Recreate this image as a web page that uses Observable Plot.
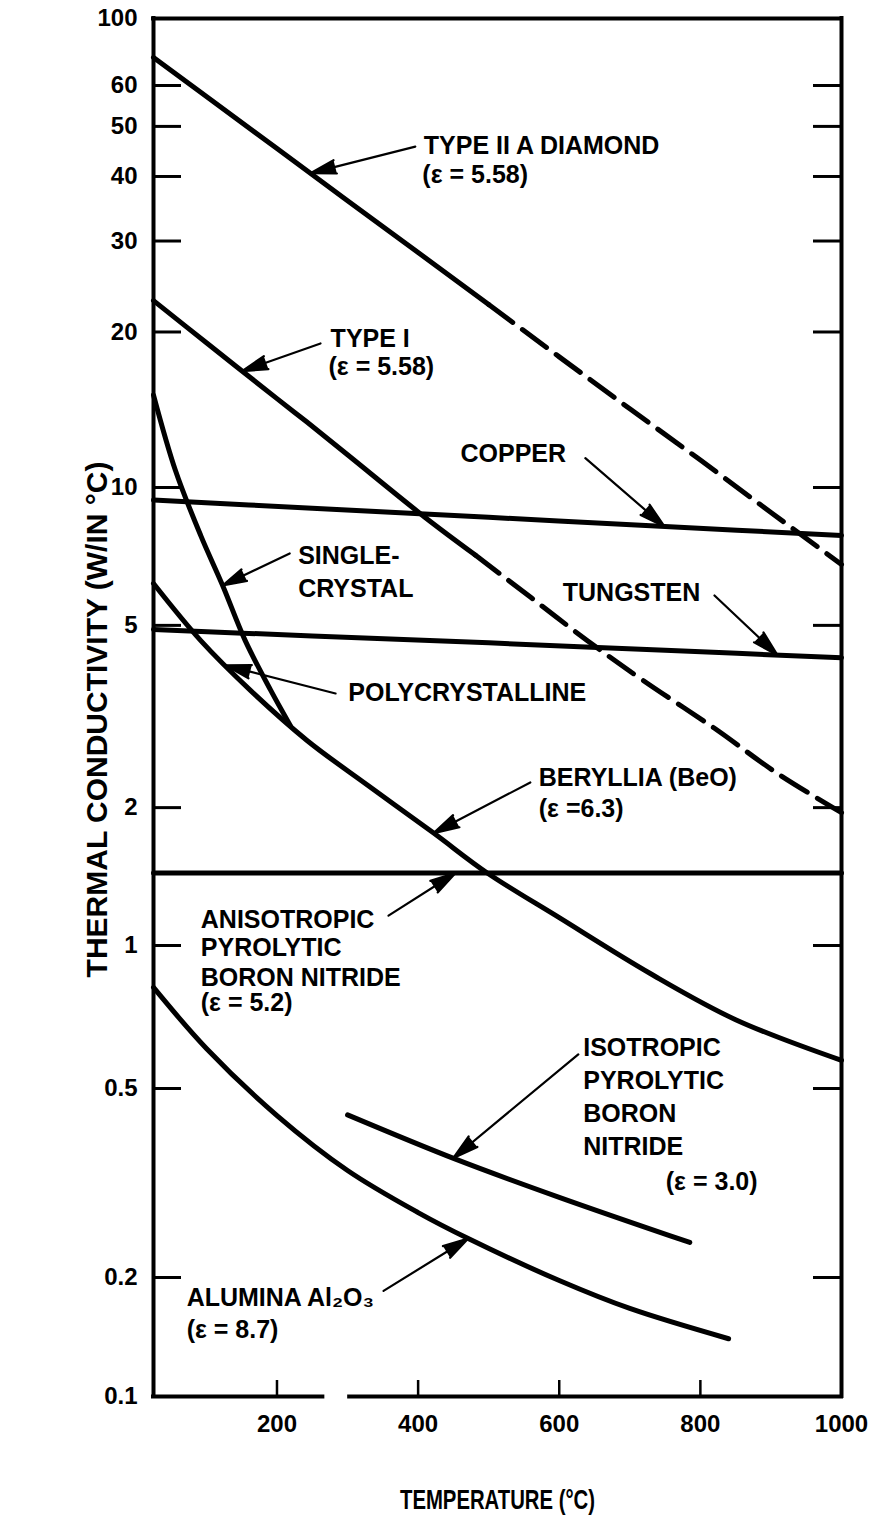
<!DOCTYPE html>
<html><head><meta charset="utf-8">
<script src="https://cdn.jsdelivr.net/npm/d3@7"></script>
<script src="https://cdn.jsdelivr.net/npm/@observablehq/plot@0.6"></script>
<style>body{margin:0;background:#fff;}</style>
</head><body><div id="chart"></div>
<script>
// ---- tick values ----
const xTicks = [200, 400, 600, 800, 1000];
const yTicks = [0.1, 0.2, 0.5, 1, 2, 5, 10, 20, 30, 40, 50, 60, 100];
const yInnerTicks = [0.2, 0.5, 1, 2, 5, 10, 20, 30, 40, 50, 60];
const xInnerTicks = [200, 400, 600, 800];

// ---- series (temperature °C, conductivity W/in °C) ----
const diamondSolidT = [25, 100, 200, 300, 400, 500];
const diamondSolidK = [74.3, 57.1, 45.3, 35.9, 28.5, 22.6];
const diamondDashT = [500, 600, 700, 800, 900, 1000];
const diamondDashK = [22.6, 17.9, 14.2, 11.3, 8.82, 6.79];

const type1SolidT = [25, 100, 200, 242, 300, 410, 481];
const type1SolidK = [23.0, 19.06, 14.86, 13.4, 11.57, 8.60, 7.12];
const type1DashT = [481, 560, 640, 720, 820, 910, 1000];
const type1DashK = [7.12, 5.75, 4.63, 3.78, 2.98, 2.37, 1.95];

const copperT = [25, 250, 500, 750, 1000];
const copperK = [9.39, 9.01, 8.61, 8.22, 7.86];

const tungstenT = [25, 250, 500, 750, 1000];
const tungstenK = [4.90, 4.74, 4.58, 4.41, 4.25];

const singleT = [25, 56, 92, 123, 155, 191, 219];
const singleK = [15.1, 10.8, 7.85, 6.11, 4.63, 3.61, 3.02];

const polyT = [25, 92, 162, 243, 330, 422, 498, 600, 729, 850, 1000];
const polyK = [6.17, 4.63, 3.61, 2.80, 2.23, 1.76, 1.44, 1.15, 0.873, 0.698, 0.573];

const anisoT = [25, 1000];
const anisoK = [1.44, 1.44];

const isoT = [300, 453, 600, 785];
const isoK = [0.44, 0.355, 0.295, 0.237];

const aluminaT = [25, 100, 200, 300, 400, 471, 600, 700, 840];
const aluminaK = [0.816, 0.607, 0.4385, 0.336, 0.274, 0.2416, 0.1965, 0.167, 0.140];

// ---- annotation labels ----
const labelText = ["TYPE II A DIAMOND", "(ε = 5.58)", "TYPE I", "(ε = 5.58)", "COPPER",
  "SINGLE-", "CRYSTAL", "TUNGSTEN", "POLYCRYSTALLINE", "BERYLLIA (BeO)", "(ε =6.3)",
  "ANISOTROPIC", "PYROLYTIC", "BORON NITRIDE", "(ε = 5.2)",
  "ISOTROPIC", "PYROLYTIC", "BORON", "NITRIDE", "(ε = 3.0)",
  "ALUMINA Al₂O₃", "(ε = 8.7)"];
const labelT = [408, 406, 276, 273, 460, 230, 230, 605, 301, 571, 571,
  92, 92, 92, 92, 634, 634, 634, 634, 751, 72, 72];
const labelK = [45.9, 40.2, 19.4, 17.1, 11.6, 7.1, 5.99, 5.87, 3.55, 2.32, 1.99,
  1.134, 0.986, 0.856, 0.755, 0.608, 0.518, 0.442, 0.377, 0.317, 0.178, 0.147];

// ---- arrows (from label to curve) ----
const arrowT1 = [396, 261.7, 637, 218, 820, 283, 559, 358, 627, 351];
const arrowK1 = [45.7, 19.0, 11.4, 7.18, 5.81, 3.55, 2.27, 1.162, 0.59, 0.185];
const arrowT2 = [247.5, 150.5, 749, 123, 909, 127, 422, 453, 450, 471];
const arrowK2 = [40.6, 16.8, 8.22, 6.11, 4.31, 4.09, 1.76, 1.44, 0.357, 0.2416];

// ---- frame pieces ----
const bottomFrameA = [25, 303];
const bottomFrameB = [265, 1000];

// y scale anchors (value -> vertical position of the printed grid)
const yAnchorValues = [0.1, 0.2, 1, 10, 60, 100];
const yAnchorRange = [1396, 1277, 945, 487, 85, 18];

const pts = (T, K) => T.map((t, i) => ({T: t, k: K[i]}));
const labels = labelText.map((t, i) => ({t, T: labelT[i], k: labelK[i]}));
const arrows = arrowT1.map((t, i) => ({x1: t, y1: arrowK1[i], x2: arrowT2[i], y2: arrowK2[i]}));
const bottomSegs = bottomFrameA.map((a, i) => ({a, b: bottomFrameB[i]}));

const font = "'Liberation Sans', Arial, Helvetica, sans-serif";
const curveW = 5;
const xTitle = "TEMPERATURE (°C)";
const yTitle = "THERMAL CONDUCTIVITY (W/IN °C)";

const chart = Plot.plot({
  width: 869,
  height: 1520,
  marginLeft: 153,
  marginRight: 28,
  marginTop: 18,
  marginBottom: 124,
  style: {fontFamily: font, fontWeight: "bold", color: "black", background: "white", overflow: "visible"},
  x: {domain: [25, 1000], axis: null},
  y: {type: "log", domain: yAnchorValues, range: yAnchorRange, axis: null},
  marks: [
    // frame
    Plot.ruleX([25, 1000], {x: d => d, strokeWidth: 4, strokeLinecap: "square"}),
    Plot.ruleY([100], {y: d => d, strokeWidth: 4, strokeLinecap: "square"}),
    Plot.ruleY(bottomSegs, {y: 0.1, x1: "a", x2: "b", strokeWidth: 4, strokeLinecap: "square"}),
    // inner ticks
    Plot.tickY(yInnerTicks, {y: d => d, insetRight: 660, strokeWidth: 3}),
    Plot.tickY(yInnerTicks, {y: d => d, insetLeft: 660, strokeWidth: 3}),
    Plot.tickX(xInnerTicks, {x: d => d, insetTop: 1362, strokeWidth: 2.5}),
    // tick labels
    Plot.text(yTicks, {y: d => d, text: d => String(d), frameAnchor: "left", textAnchor: "end", dx: -16, fontSize: 24, fontWeight: "bold"}),
    Plot.axisX({ticks: xTicks, tickSize: 0, tickPadding: 18, tickFormat: d => String(d), fontSize: 24, fontWeight: "bold", label: null}),
    // axis titles
    Plot.text([xTitle], {text: d => d, frameAnchor: "bottom", textAnchor: "middle", dy: 112, fontSize: 28, fontWeight: "bold"}),
    Plot.text([yTitle], {text: d => d, frameAnchor: "left", textAnchor: "middle", dx: -56, dy: 12, rotate: -90, fontSize: 30, fontWeight: "bold"}),
    // curves
    Plot.line(pts(diamondSolidT, diamondSolidK), {x: "T", y: "k", strokeWidth: curveW}),
    Plot.line(pts(diamondDashT, diamondDashK), {x: "T", y: "k", strokeWidth: curveW, strokeDasharray: "30,12"}),
    Plot.line(pts(type1SolidT, type1SolidK), {x: "T", y: "k", strokeWidth: curveW, curve: "catmull-rom"}),
    Plot.line(pts(type1DashT, type1DashK), {x: "T", y: "k", strokeWidth: curveW, strokeDasharray: "30,12", curve: "catmull-rom"}),
    Plot.line(pts(copperT, copperK), {x: "T", y: "k", strokeWidth: curveW, curve: "catmull-rom"}),
    Plot.line(pts(tungstenT, tungstenK), {x: "T", y: "k", strokeWidth: curveW, curve: "catmull-rom"}),
    Plot.line(pts(singleT, singleK), {x: "T", y: "k", strokeWidth: curveW, curve: "catmull-rom"}),
    Plot.line(pts(polyT, polyK), {x: "T", y: "k", strokeWidth: curveW, curve: "catmull-rom"}),
    Plot.line(pts(anisoT, anisoK), {x: "T", y: "k", strokeWidth: curveW}),
    Plot.line(pts(isoT, isoK), {x: "T", y: "k", strokeWidth: curveW, curve: "catmull-rom"}),
    Plot.line(pts(aluminaT, aluminaK), {x: "T", y: "k", strokeWidth: curveW, curve: "catmull-rom"}),
    // annotation arrows and labels
    Plot.arrow(arrows, {x1: "x1", y1: "y1", x2: "x2", y2: "y2", strokeWidth: 2.2, headLength: 18, headAngle: 30, fill: "black", stroke: "black"}),
    Plot.text(labels, {x: "T", y: "k", text: "t", textAnchor: "start", lineAnchor: "middle", fontSize: 25, fontWeight: "bold"})
  ]
});
// the printed x-axis title uses a condensed face
chart.querySelectorAll("text").forEach(t => {
  if (t.textContent === xTitle) {
    t.setAttribute("textLength", 195);
    t.setAttribute("lengthAdjust", "spacingAndGlyphs");
  }
});
document.getElementById("chart").append(chart);
</script>
</body></html>
